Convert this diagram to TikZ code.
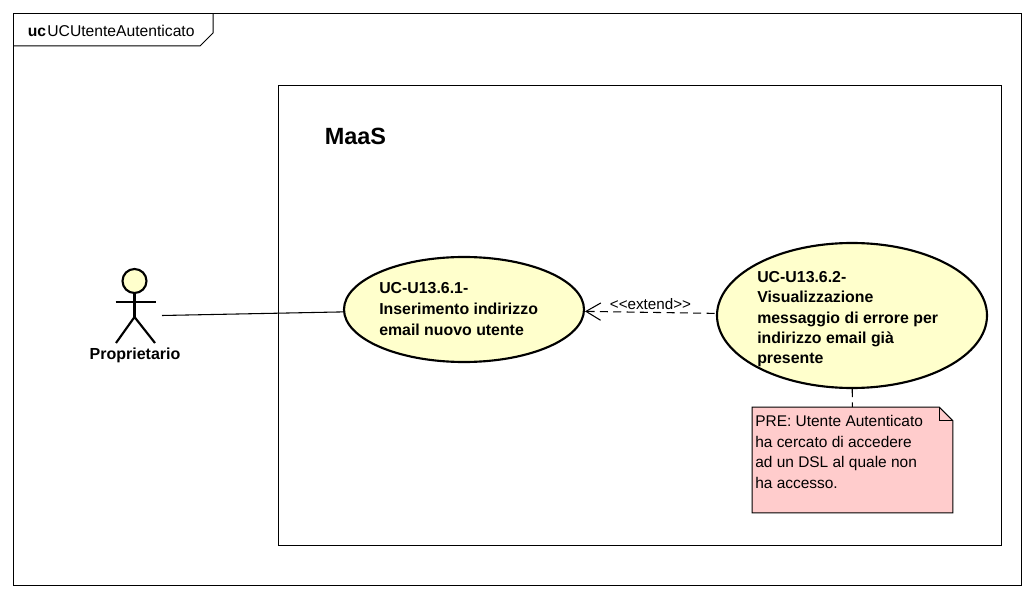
\documentclass[tikz,border=0pt]{standalone}
\usepackage{fontspec}
\setmainfont{Liberation Sans}
\usetikzlibrary{arrows.meta,shapes.geometric,calc}
\definecolor{ucfill}{RGB}{255,255,204}
\definecolor{notefill}{RGB}{255,204,204}
\tikzset{
  x=0.75pt,y=-0.75pt,
  frameline/.style={draw=black,line width=0.75pt},
  usecase/.style={ellipse,draw=black,fill=ucfill,line width=1.6pt,inner sep=0pt},
  uctext/.style={font=\bfseries\fontsize{11.9}{15.6}\selectfont,align=left,anchor=north west,inner sep=0pt},
  stick/.style={draw=black,line width=1.6pt},
  assoc/.style={draw=black,line width=0.8pt},
  extendline/.style={draw=black,line width=0.8pt,dash pattern=on 6pt off 4pt,{Straight Barb[length=11pt,width=13pt,line width=0.8pt]}-},
  noteline/.style={draw=black,line width=0.8pt,dash pattern=on 6pt off 4pt},
}
\begin{document}
\begin{tikzpicture}
\useasboundingbox (0,0) rectangle (1034,598);
% diagram frame
\node[minimum width=1007.5*0.75pt,minimum height=571.5*0.75pt,frameline,inner sep=0pt] (frame) at (517.25,299.25) {};
\draw[frameline] (213,13.5) -- (213,33) -- (200,46) -- (13.5,46);
\node[anchor=base west,inner sep=0pt,font=\fontsize{11.75}{14}\selectfont] (frametitle) at (27.5,37) {\textbf{uc}\kern1pt UCUtenteAutenticato};
% system
\node[minimum width=723*0.75pt,minimum height=460*0.75pt,frameline,inner sep=0pt] (system) at (640,315.5) {};
\node[anchor=base west,inner sep=0pt,font=\bfseries\fontsize{17.6}{20}\selectfont] (systitle) at (324.5,144.5) {MaaS};
% actor
\node[circle,draw=black,fill=ucfill,line width=1.6pt,minimum size=24*0.75pt,inner sep=0pt] (head) at (134.5,281) {};
\coordinate (hip) at (134.5,317);
\coordinate (armL) at (115.5,302);
\coordinate (armR) at (155.5,302);
\coordinate (legL) at (116,343);
\coordinate (legR) at (155,343);
\coordinate (actorport) at (162,315.5);
\draw[stick] (head.south) -- (hip);
\draw[stick] (armL) -- (armR);
\draw[stick] (legL) -- (hip) -- (legR);
\node[anchor=base,inner sep=0pt,font=\bfseries\fontsize{12}{14}\selectfont] (actorlabel) at (135,359) {Proprietario};
% use cases
\node[usecase,minimum width=240*0.75pt,minimum height=105*0.75pt] (uc1) at (464,309.5) {};
\node[uctext,font=\bfseries\fontsize{11.9}{15.8}\selectfont] (uc1text) at (379,282.5) {UC-U13.6.1-\\Inserimento indirizzo\\email nuovo utente};
\node[usecase,minimum width=270*0.75pt,minimum height=145*0.75pt] (uc2) at (852,315.5) {};
\node[uctext,font=\bfseries\fontsize{11.9}{15.3}\selectfont] (uc2text) at (757,271) {UC-U13.6.2-\\Visualizzazione\\messaggio di errore per\\indirizzo email già\\presente};
% note
\node[minimum width=200*0.75pt,minimum height=105*0.75pt,inner sep=0pt] (note) at (852.5,460) {};
\fill[notefill] (note.north west) -- ($(note.north east)+(-13.5,0)$) -- ($(note.north east)+(0,13.5)$) -- (note.south east) -- (note.south west) -- cycle;
\draw[frameline] (note.north west) -- ($(note.north east)+(-13.5,0)$) -- ($(note.north east)+(0,13.5)$) -- (note.south east) -- (note.south west) -- cycle;
\draw[frameline] ($(note.north east)+(-13.5,0)$) -- ($(note.north east)+(-13.5,13.5)$) -- ($(note.north east)+(0,13.5)$);
\node[anchor=north west,inner sep=0pt,align=left,font=\fontsize{11.6}{15.4}\selectfont] (notetext) at (755,415) {PRE: Utente Autenticato\\ha cercato di accedere\\ad un DSL al quale non\\ha accesso.};
% connectors
\draw[assoc] (actorport) -- (uc1);
\draw[extendline] (uc1) -- (uc2);
\draw[noteline] (uc2) -- (note);
\node[anchor=base,inner sep=0pt,font=\fontsize{11.4}{12}\selectfont] (extlabel) at (650.5,310) {<{}<extend>{}>};
\end{tikzpicture}
\end{document}
